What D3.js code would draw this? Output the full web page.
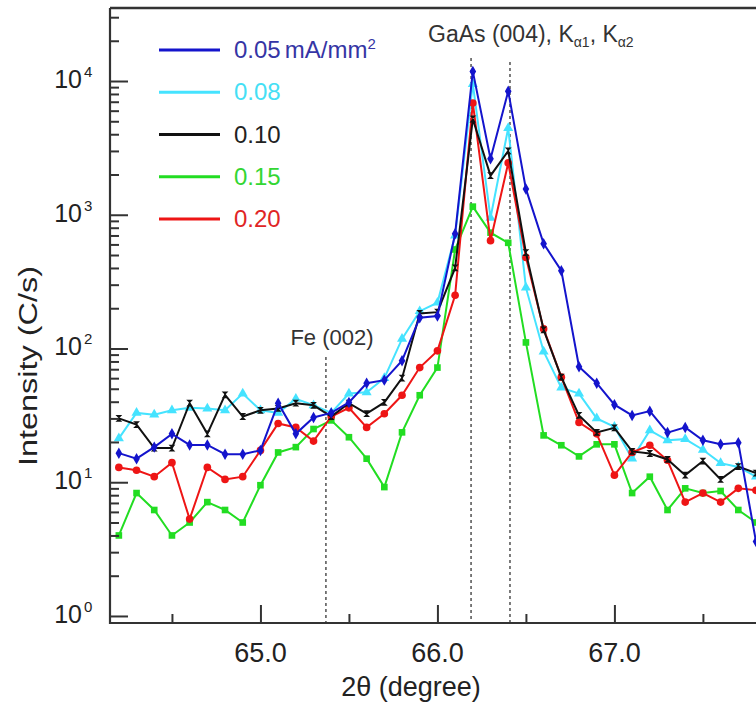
<!DOCTYPE html>
<html><head><meta charset="utf-8">
<script src="https://cdn.jsdelivr.net/npm/d3@7"></script>
<style>
html,body{margin:0;padding:0;background:#fff;}
svg text{font-family:"Liberation Sans",Arial,sans-serif;}
</style></head>
<body>
<svg id="chart" width="756" height="704"></svg>
<script>
// ---- data ----
const twoTheta = d3.range(37).map(i => +(64.2 + i * 0.1).toFixed(1));
const seriesNames = ["0.05", "0.08", "0.10", "0.15", "0.20"];
const blue  = [16.5,15,18.3,23,19,19,16.2,16.2,17.3,39,23,30.5,33,39.5,55,58,81,170,175,720,11800,2620,8400,1560,608,382,73,55,38,31.6,34,23.5,25.7,20.6,19.2,19.7,3.6];
const cyan  = [21.3,33,32,34.5,36,35.6,34.5,46,34.5,33,42,37.6,33,46,47,60,118,190,220,700,9500,950,4450,285,95,51,46,30,26,15,24.4,20.6,21,17.5,13.9,13,11];
const black = [30,27,18,18,39,23,45,31,34.5,35.6,39,37.6,31,39,32.6,39.5,60,183,187,400,5200,1960,3000,520,138,61,31.6,23.6,25.5,17,16.4,14.8,11.3,14.4,10.5,13.1,11.7];
const green = [4.0,8.3,6.2,4.0,5.0,7.1,6.2,5.0,9.5,16.7,18.3,25,29,21.7,15,9.2,23.6,44.7,72,550,1150,735,617,111,22.4,18.9,15.6,19.2,19.2,8.3,11,6.2,9.0,8.3,8.6,6.2,5.0];
const red   = [12.9,12.3,11,14,5.3,12.9,10.5,11,17.3,27.5,25.7,20.3,31,36,25.7,32.5,44.7,72,96,250,6850,640,2440,480,140,61,28,23,11.3,16.7,18.9,14.6,7.1,8.3,7.1,9.0,8.7];
const yTickExps = [0, 1, 2, 3, 4];
const xTickLabels = [65.0, 66.0, 67.0];
const xMinorTicks = [64.5, 65.5, 66.5, 67.5];
const fePeak = 65.37;
const gaasPeaks = [66.19, 66.41];

// ---- layout ----
const L = 110, R = 756, T = 8, B = 623;
const svg = d3.select("#chart");
const x = d3.scaleLinear().domain([64.15, 67.80]).range([L, R]);
const y = d3.scaleLog().domain([0.886, 35150]).range([B, T]);

svg.append("defs").append("clipPath").attr("id","clip")
  .append("rect").attr("x", L).attr("y", T).attr("width", R - L).attr("height", B - T);

// dashed reference lines
const guides = svg.append("g").attr("stroke", "#444").attr("stroke-width", 1.4).attr("stroke-dasharray", "3,3");
guides.append("line").attr("x1", x(fePeak)).attr("x2", x(fePeak)).attr("y1", 357).attr("y2", B);
guides.append("line").attr("x1", x(gaasPeaks[0])).attr("x2", x(gaasPeaks[0])).attr("y1", 58).attr("y2", B);
guides.append("line").attr("x1", x(gaasPeaks[1])).attr("x2", x(gaasPeaks[1])).attr("y1", 62).attr("y2", B);

// series
const bowtie = { draw(ctx, size) { const s = Math.sqrt(size) / 2; ctx.moveTo(-s,-s); ctx.lineTo(s,-s); ctx.lineTo(-s,s); ctx.lineTo(s,s); ctx.closePath(); } };
const series = [
  { name: seriesNames[1], vals: cyan,  color: "#45e3ff", sym: d3.symbolTriangle, size: 44 },
  { name: seriesNames[3], vals: green, color: "#22dd22", sym: d3.symbolSquare,   size: 44 },
  { name: seriesNames[4], vals: red,   color: "#ee1515", sym: d3.symbolCircle,   size: 46 },
  { name: seriesNames[2], vals: black, color: "#111111", sym: bowtie,            size: 46 },
  { name: seriesNames[0], vals: blue,  color: "#1414cc", sym: d3.symbolDiamond,  size: 38 }
];
const line = d3.line().x((d, i) => x(twoTheta[i])).y(d => y(d));
const plot = svg.append("g").attr("clip-path", "url(#clip)");
series.forEach(s => {
  plot.append("path").attr("d", line(s.vals)).attr("fill", "none")
    .attr("stroke", s.color).attr("stroke-width", 2);
  plot.selectAll(null).data(s.vals).enter().append("path")
    .attr("transform", (d, i) => `translate(${x(twoTheta[i])},${y(d)})`)
    .attr("d", d3.symbol().type(s.sym).size(s.size))
    .attr("fill", s.color);
});

// axes
const axisColor = "#333";
const yMajor = yTickExps.map(e => Math.pow(10, e));
const yMinor = [];
yTickExps.forEach(e => { for (let m = 2; m <= 9; m++) { const v = m * Math.pow(10, e); if (v <= y.domain()[1]) yMinor.push(v); } });
const gy = svg.append("g").attr("transform", `translate(${L},0)`);
gy.call(d3.axisRight(y).tickValues(yMajor).tickSize(18).tickFormat(""));
gy.append("g").call(d3.axisRight(y).tickValues(yMinor).tickSize(9).tickFormat(""));
const gx = svg.append("g").attr("transform", `translate(0,${B})`);
gx.call(d3.axisTop(x).tickValues(xTickLabels).tickSize(18).tickFormat(""));
gx.append("g").call(d3.axisTop(x).tickValues(xMinorTicks).tickSize(9).tickFormat(""));
svg.selectAll(".domain").remove();
svg.selectAll(".tick line").attr("stroke", axisColor).attr("stroke-width", 2);
// frame lines
svg.append("line").attr("x1", L).attr("x2", L).attr("y1", T).attr("y2", B + 1).attr("stroke", axisColor).attr("stroke-width", 2.2);
svg.append("line").attr("x1", L).attr("x2", R).attr("y1", B).attr("y2", B).attr("stroke", axisColor).attr("stroke-width", 2.2);
svg.append("line").attr("x1", L).attr("x2", R).attr("y1", T).attr("y2", T).attr("stroke", axisColor).attr("stroke-width", 2.5);

// y tick labels
yTickExps.forEach(e => {
  svg.append("text").attr("x", 82).attr("y", y(Math.pow(10, e)) + 7)
    .attr("text-anchor", "end").attr("font-size", 25).attr("fill", "#222").text("10");
  svg.append("text").attr("x", 84).attr("y", y(Math.pow(10, e)) - 4)
    .attr("font-size", 15).attr("fill", "#222").text(e);
});
// x tick labels
xTickLabels.forEach(v => {
  svg.append("text").attr("x", x(v)).attr("y", 662).attr("text-anchor", "middle")
    .attr("font-size", 27).attr("fill", "#222").text(d3.format(".1f")(v));
});
// axis titles
svg.append("text").attr("x", 411).attr("y", 696).attr("text-anchor", "middle")
  .attr("font-size", 27).attr("fill", "#222").text("2θ (degree)");
svg.append("text").attr("transform", "translate(37,366) rotate(-90)").attr("text-anchor", "middle")
  .attr("font-size", 25).attr("fill", "#222")
  .attr("textLength", 200).attr("lengthAdjust", "spacingAndGlyphs").text("Intensity (C/s)");

// annotations
svg.append("text").attr("x", 332).attr("y", 345).attr("text-anchor", "middle")
  .attr("font-size", 22).attr("fill", "#333").text("Fe (002)");
const ga = svg.append("text").attr("x", 428).attr("y", 42).attr("font-size", 23).attr("fill", "#333");
ga.append("tspan").text("GaAs (004), K");
ga.append("tspan").attr("font-size", 14).attr("dy", 5).text("α1");
ga.append("tspan").attr("dy", -5).text(", K");
ga.append("tspan").attr("font-size", 14).attr("dy", 5).text("α2");

// legend
const legendItems = [
  { label: seriesNames[0], color: "#1414cc", text: "#3535a5", unit: true },
  { label: seriesNames[1], color: "#45e3ff", text: "#45dff5" },
  { label: seriesNames[2], color: "#111111", text: "#222" },
  { label: seriesNames[3], color: "#22dd22", text: "#33d633" },
  { label: seriesNames[4], color: "#ee1515", text: "#e02525" }
];
const legendY = d3.scalePoint().domain(legendItems.map(d => d.label)).range([50, 219]);
legendItems.forEach(d => {
  const ly = legendY(d.label);
  svg.append("line").attr("x1", 159).attr("x2", 220).attr("y1", ly).attr("y2", ly)
    .attr("stroke", d.color).attr("stroke-width", 2.8);
  const t = svg.append("text").attr("x", 234).attr("y", ly + 8).attr("font-size", 24).attr("fill", d.text);
  t.append("tspan").text(d.label);
  if (d.unit) {
    t.append("tspan").attr("dx", 4).text("mA/mm");
    t.append("tspan").attr("font-size", 15).attr("dy", -9).text("2");
  }
});
</script>
</body></html>
